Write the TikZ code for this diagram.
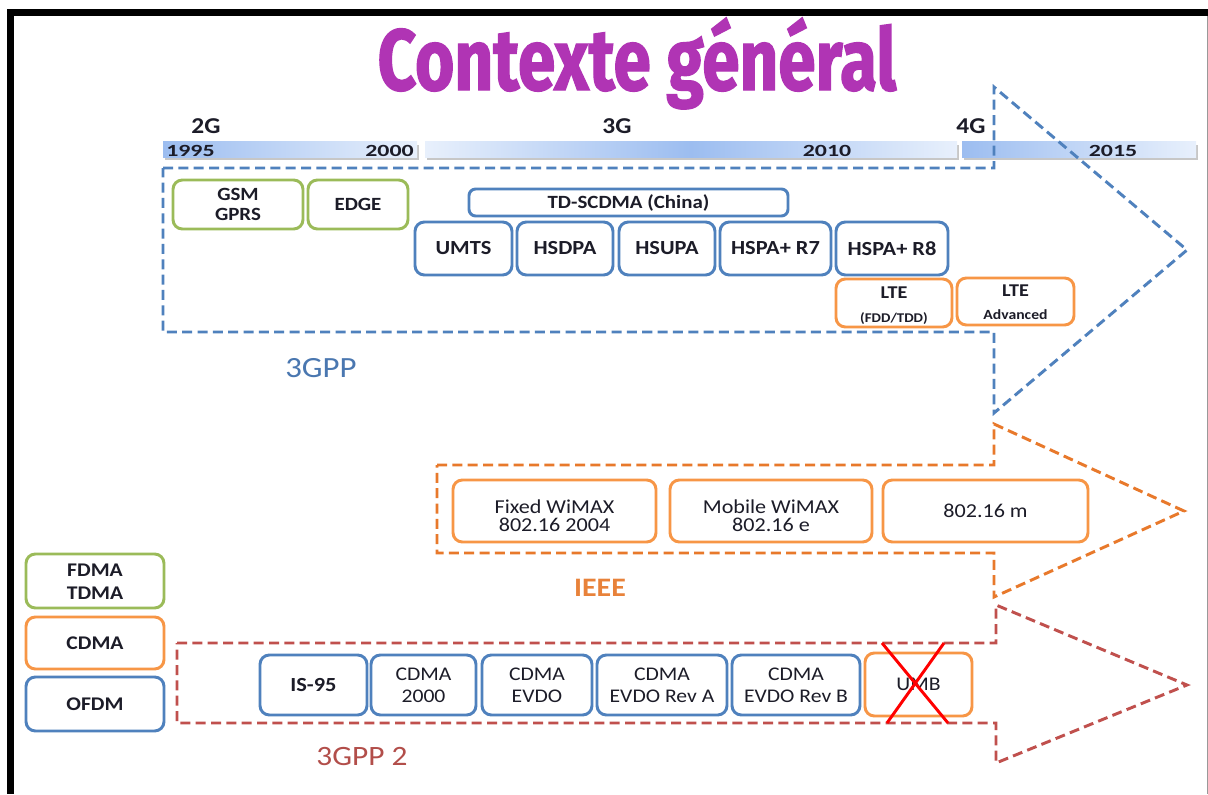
\documentclass[tikz,border=0pt]{standalone}
\usepackage{fontspec}
\setmainfont{Carlito}[FakeStretch=1.12]
\newfontfamily\yearfont{Carlito}[FakeStretch=1.4]
\newfontfamily\titlefont{Fira Sans}[FakeStretch=0.777,BoldFeatures={FakeBold=1.5}]
\definecolor{oblue}{HTML}{4F81BD}
\definecolor{ored}{HTML}{C0504D}
\definecolor{ogreen}{HTML}{9BBB59}
\definecolor{oorange}{HTML}{F79646}
\definecolor{dorange}{HTML}{E8792B}
\definecolor{tpurple}{HTML}{B034B4}
\definecolor{txt}{HTML}{1C1C28}
\definecolor{bardark}{HTML}{9CBDF0}
\definecolor{barlight}{HTML}{E8F0FC}
\definecolor{lblue}{HTML}{4A77B0}
\definecolor{lorange}{HTML}{E8823A}
\definecolor{lred}{HTML}{B24E4A}
\newcommand\mlines[1]{\begin{tabular}{@{}c@{}}#1\end{tabular}}
\newcommand\lowered[2]{\raisebox{-#1}[\height][\depth]{#2}}
\begin{document}
\begin{tikzpicture}[x=0.75pt,y=-0.75pt,
  tbox/.style={draw, rounded corners=7pt, line width=2.2pt, inner sep=0pt, text=txt,
    font=\bfseries\fontsize{15}{17}\selectfont},
  gbox/.style={tbox, draw=ogreen},
  bbox/.style={tbox, draw=oblue},
  obox/.style={tbox, draw=oorange},
  bx/.style args={#1/#2/#3/#4}{minimum width={(#3-#1)*0.75pt}, minimum height={(#4-#2)*0.75pt},
    at={({(#1+#3)/2},{(#2+#4)/2})}},
  regtext/.style={font=\fontsize{14.5}{17}\selectfont},
  zone/.style={dash pattern=on 7.5pt off 4pt, line width=2.2pt, line join=miter},
  yrs/.style={inner sep=0pt, text=txt, font=\yearfont\bfseries\fontsize{12.8}{13}\selectfont},
  gen/.style={inner sep=0pt, text=txt, font=\bfseries\fontsize{17}{17}\selectfont},
  shad/.style={fill=black!22},
]
\fill[white] (0,0) rectangle (1208,794);
\useasboundingbox (0,0) rectangle (1208,794);
% frame
\fill[black] (7,9) rectangle (1208,16);
\fill[black] (7,9) rectangle (14,794);
\draw[black!40, line width=0.75pt] (1207,16) -- (1207,794);
% title
\node[anchor=base, inner sep=0pt, text=tpurple] (title) at (637,90)
  {\titlefont\bfseries\fontsize{65}{65}\selectfont Contexte général};
% timeline bars
\fill[shad] (165,145) rectangle (419,160);
\shade[left color=bardark, right color=barlight] (163,141) rectangle (417,157);
\fill[shad] (427,145) rectangle (959,160);
\shade[left color=barlight, right color=barlight, middle color=bardark] (425,141) rectangle (957,157);
\fill[shad] (964,145) rectangle (1198,160);
\shade[left color=bardark, right color=barlight] (962,141) rectangle (1196,157);
\node[yrs, anchor=base west] (y1995) at (166,156) {1995};
\node[yrs, anchor=base east] (y2000) at (414,156) {2000};
\node[yrs, anchor=base] (y2010) at (827,156) {2010};
\node[yrs, anchor=base] (y2015) at (1113,156) {2015};
\node[gen, anchor=base] (g2) at (206,133) {2G};
\node[gen, anchor=base] (g3) at (617,133) {3G};
\node[gen, anchor=base] (g4) at (971,133) {4G};
% 3GPP arrow
\draw[zone, draw=oblue] (163,168) -- (994,168) -- (994,87) -- (1187,250) -- (994,413) -- (994,332) -- (163,332) -- cycle;
\node[gbox, bx=173/180/303/229, font=\bfseries\fontsize{14}{15}\selectfont] (gsm) {\lowered{1.5pt}{\mlines{GSM\\GPRS}}};
\node[gbox, bx=308/180/408/229, font=\bfseries\fontsize{14}{15}\selectfont] (edge) {EDGE};
\node[bbox, rounded corners=5pt, bx=469/189/788/216, font=\bfseries\fontsize{14}{15}\selectfont] (tdscdma) {TD-SCDMA (China)};
\node[bbox, bx=415/222/512/275] (umts) {UMTS};
\node[bbox, bx=517/222/613/275] (hsdpa) {HSDPA};
\node[bbox, bx=619/222/715/275] (hsupa) {HSUPA};
\node[bbox, bx=720/222/831/275] (hspa7) {HSPA+ R7};
\node[bbox, bx=836/222/948/275] (hspa8) {HSPA+ R8};
\node[obox, bx=836/280/952/326, font=\bfseries\fontsize{13.5}{18}\selectfont] (lte)
  {\lowered{2pt}{\mlines{LTE\\{\fontsize{10}{12}\selectfont (FDD/TDD)}}}};
\node[obox, bx=957/278/1074/325, font=\bfseries\fontsize{13.5}{17}\selectfont] (lteadv)
  {\lowered{1.5pt}{\mlines{LTE\\{\fontsize{10.5}{12}\selectfont Advanced}}}};
\node[font=\fontsize{22}{24}\selectfont, text=lblue, inner sep=0pt] (l3gpp) at (321,368) {3GPP};
% IEEE arrow
\draw[zone, draw=dorange] (437,465) -- (994,465) -- (994,424) -- (1184,511) -- (994,597) -- (994,553) -- (437,553) -- cycle;
\node[obox, bx=453/480/656/542, font=\fontsize{14.8}{12.5}\selectfont] (wimaxf) {\lowered{5.5pt}{\mlines{Fixed WiMAX\\802.16 2004}}};
\node[obox, bx=670/480/872/542, font=\fontsize{14.8}{12.5}\selectfont] (wimaxm) {\lowered{5.5pt}{\mlines{Mobile WiMAX\\802.16 e}}};
\node[obox, bx=883/480/1088/542, font=\fontsize{14.8}{12.5}\selectfont] (m80216) {802.16 m};
\node[font=\bfseries\fontsize{20}{22}\selectfont, text=lorange, inner sep=0pt] (lieee) at (600,588) {IEEE};
% 3GPP2 arrow
\draw[zone, draw=ored] (177,643) -- (996,643) -- (996,605) -- (1187,685) -- (996,763) -- (996,723) -- (177,723) -- cycle;
\node[bbox, bx=260/655/367/715] (is95) {IS-95};
\node[bbox, regtext, bx=371/655/476/715] (cdma2000) {\lowered{1.5pt}{\mlines{CDMA\\2000}}};
\node[bbox, regtext, bx=482/655/592/715] (evdo) {\lowered{1.5pt}{\mlines{CDMA\\EVDO}}};
\node[bbox, regtext, bx=597/655/727/715] (evdoa) {\lowered{1.5pt}{\mlines{CDMA\\EVDO Rev A}}};
\node[bbox, regtext, bx=732/655/860/715] (evdob) {\lowered{1.5pt}{\mlines{CDMA\\EVDO Rev B}}};
\node[obox, regtext, bx=865/653/972/716] (umb) {UMB};
\draw[red, line width=2.2pt] (882,643) -- (948,723);
\draw[red, line width=2.2pt] (944,643) -- (887,723);
\node[font=\fontsize{21}{23}\selectfont, text=lred, inner sep=0pt] (l3gpp2) at (362,756) {3GPP 2};
% legend
\node[gbox, bx=26/554/164/608, font=\bfseries\fontsize{14.5}{17}\selectfont] (lgfdma) {\lowered{2pt}{\mlines{FDMA\\TDMA}}};
\node[obox, bx=26/617/164/669, font=\bfseries\fontsize{14.5}{17}\selectfont] (lgcdma) {CDMA};
\node[bbox, bx=26/677/164/731, font=\bfseries\fontsize{14.5}{17}\selectfont] (lgofdm) {OFDM};
\end{tikzpicture}
\end{document}
